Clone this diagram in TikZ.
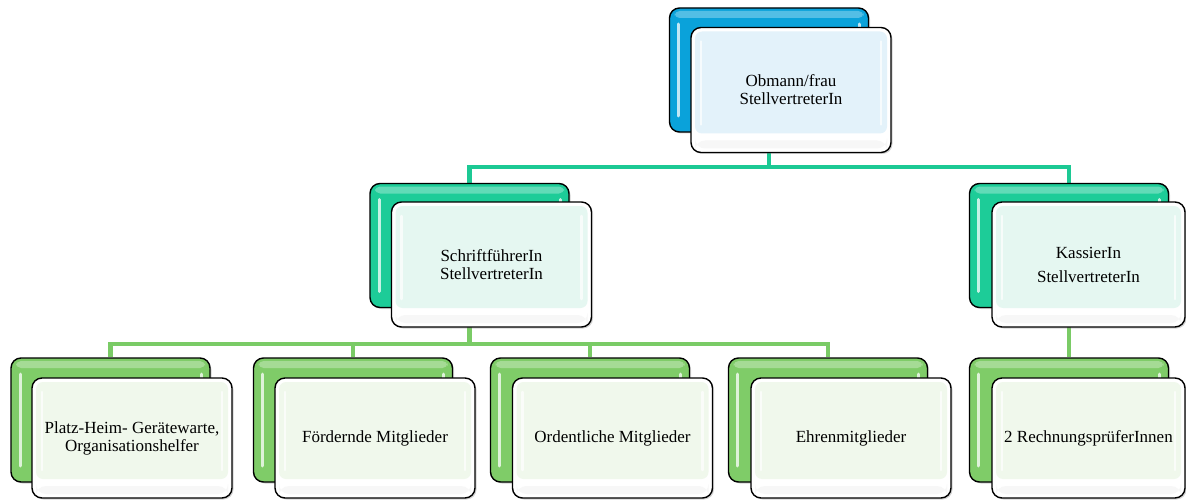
\documentclass[tikz,border=0pt]{standalone}
\usepackage{fontspec}
\setmainfont{Liberation Serif}
\usetikzlibrary{shadows,backgrounds}
\definecolor{bluebk}{HTML}{0AA2DA}
\definecolor{tealbk}{HTML}{1DCC98}
\definecolor{greenbk}{HTML}{7FCC68}
\definecolor{bluetint}{HTML}{E3F2FA}
\definecolor{tealtint}{HTML}{E5F7F1}
\definecolor{greentint}{HTML}{F0F8EC}
\definecolor{tealline}{HTML}{1CC994}
\definecolor{greenline}{HTML}{7ACB66}
\tikzset{
  backbox/.style={draw=black, line width=1.4pt, rounded corners=10pt,
    fill=#1, minimum width=199pt, minimum height=124pt, inner sep=0pt,
    drop shadow={shadow xshift=1.5pt, shadow yshift=-1.5pt, opacity=0.35},
    path picture={
      \fill[white, opacity=0.3, rounded corners=5pt]
        ([xshift=5pt,yshift=-3pt]path picture bounding box.north west) rectangle
        ([xshift=-5pt,yshift=-10pt]path picture bounding box.north east);
      \draw[white, opacity=0.75, line width=3pt, line cap=round]
        ([xshift=9pt,yshift=-16pt]path picture bounding box.north west) --
        ([xshift=9pt,yshift=16pt]path picture bounding box.south west);
      \draw[white, opacity=0.75, line width=3pt, line cap=round]
        ([xshift=-9pt,yshift=-16pt]path picture bounding box.north east) --
        ([xshift=-9pt,yshift=16pt]path picture bounding box.south east);
    }},
  frontbox/.style={draw=black, line width=1.4pt, rounded corners=10pt,
    fill=white, minimum width=200pt, minimum height=125pt, inner sep=2pt,
    align=center, font=\fontsize{17}{18}\selectfont,
    drop shadow={shadow xshift=1.5pt, shadow yshift=-1.5pt, opacity=0.35},
    path picture={
      \fill[#1, rounded corners=7pt]
        ([xshift=4pt,yshift=-4pt]path picture bounding box.north west) rectangle
        ([xshift=-4pt,yshift=19pt]path picture bounding box.south east);
      \draw[white, opacity=0.7, line width=2.5pt, line cap=round]
        ([xshift=10pt,yshift=-14pt]path picture bounding box.north west) --
        ([xshift=10pt,yshift=28pt]path picture bounding box.south west);
      \draw[white, opacity=0.7, line width=2.5pt, line cap=round]
        ([xshift=-10pt,yshift=-14pt]path picture bounding box.north east) --
        ([xshift=-10pt,yshift=28pt]path picture bounding box.south east);
      \fill[black!3]
        ([xshift=4pt,yshift=12pt]path picture bounding box.south west) rectangle
        ([xshift=-4pt,yshift=4pt]path picture bounding box.south east);
    }},
  tline/.style={draw=tealline, line width=4.5pt},
  gline/.style={draw=greenline, line width=4.5pt}
}
\begin{document}
\begin{tikzpicture}[x=1pt,y=-1pt]
\useasboundingbox (0,0) rectangle (1186,500);

% top level
\node[backbox=bluebk] (topb) at (769,70) {};
\node[frontbox=bluetint] (top) at (791,90) {Obmann/frau\\StellvertreterIn};

% middle level
\node[backbox=tealbk] (schb) at (469.5,245.5) {};
\node[frontbox=tealtint] (sch) at (491.5,264.5) {SchriftführerIn\\StellvertreterIn};
\node[backbox=tealbk] (kasb) at (1069,245.5) {};
\node[frontbox=tealtint, minimum width=193pt] (kas) at (1088.5,264.5) {KassierIn\\[6pt]StellvertreterIn};

% bottom level
\node[backbox=greenbk] (b1b) at (110.5,420) {};
\node[frontbox=greentint, minimum height=120pt] (b1) at (132,438) {Platz-Heim- Gerätewarte,\\Organisationshelfer};
\node[backbox=greenbk] (b2b) at (353,420) {};
\node[frontbox=greentint, minimum height=120pt] (b2) at (375,438) {Fördernde Mitglieder};
\node[backbox=greenbk] (b3b) at (590,420) {};
\node[frontbox=greentint, minimum height=120pt] (b3) at (612.5,438) {Ordentliche Mitglieder};
\node[backbox=greenbk] (b4b) at (828,420) {};
\node[frontbox=greentint, minimum height=120pt] (b4) at (851,438) {Ehrenmitglieder};
\node[backbox=greenbk] (b5b) at (1069,420) {};
\node[frontbox=greentint, minimum height=120pt, minimum width=193pt] (b5) at (1088.5,438) {2 RechnungsprüferInnen};

\coordinate (j1) at (769,167);
\coordinate (j2) at (469.5,344);

\begin{scope}[on background layer]
  \draw[tline] (topb.south) -- (j1);
  \draw[tline] (schb.north) |- (j1) -| (kasb.north);
  \draw[gline] (schb.south) -- (j2);
  \draw[gline] (b1b.north) |- (j2) -| (b4b.north);
  \draw[gline] (b2b.north) -- (b2b.north |- j2);
  \draw[gline] (b3b.north) -- (b3b.north |- j2);
  \draw[gline] (kasb.south) -- (b5b.north);
\end{scope}
\end{tikzpicture}
\end{document}
